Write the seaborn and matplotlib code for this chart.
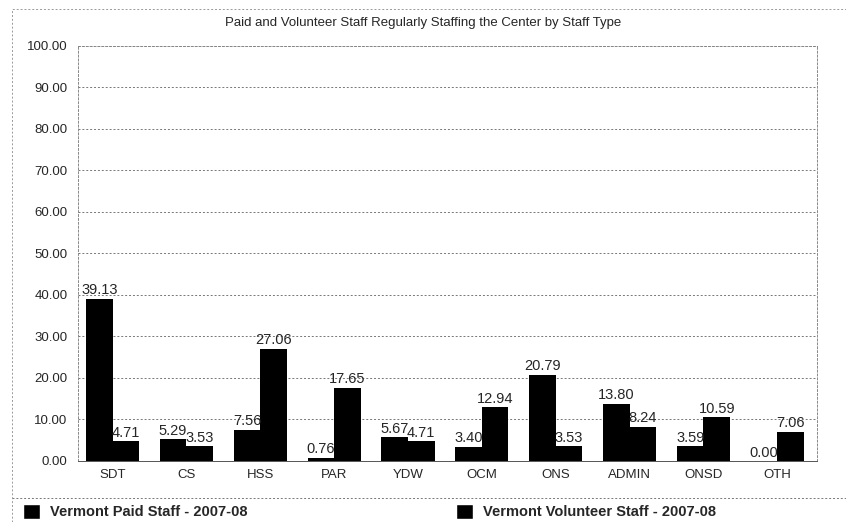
import matplotlib
matplotlib.use("Agg")
import matplotlib.pyplot as plt
import seaborn as sns
import pandas as pd
from matplotlib.lines import Line2D
from matplotlib.patches import Rectangle

categories = ["SDT", "CS", "HSS", "PAR", "YDW", "OCM", "ONS", "ADMIN", "ONSD", "OTH"]
paid = [39.13, 5.29, 7.56, 0.76, 5.67, 3.40, 20.79, 13.80, 3.59, 0.00]
volunteer = [4.71, 3.53, 27.06, 17.65, 4.71, 12.94, 3.53, 8.24, 10.59, 7.06]
series_names = ["Vermont Paid Staff - 2007-08", "Vermont Volunteer Staff - 2007-08"]
yticks = [0, 10, 20, 30, 40, 50, 60, 70, 80, 90, 100]

df = pd.DataFrame({
    "type": categories * 2,
    "value": paid + volunteer,
    "series": [series_names[0]] * len(categories) + [series_names[1]] * len(categories),
})

sns.set_style("white")
plt.rcParams["font.family"] = ["Liberation Sans", "DejaVu Sans"]

fig = plt.figure(figsize=(8.46, 5.22), dpi=100)
ax = fig.add_axes([0.092, 0.117, 0.874, 0.795])

sns.barplot(data=df, x="type", y="value", hue="series", palette=["black", "black"],
            width=0.72, saturation=1, linewidth=0, ax=ax, legend=False)

for cont in ax.containers:
    ax.bar_label(cont, fmt="%.2f", fontsize=10.5, padding=1)

ax.set_ylim(0, 100)
ax.set_yticks(yticks)
ax.set_yticklabels([f"{v:.2f}" for v in yticks], fontsize=9.5)
ax.tick_params(axis="x", labelsize=9.5, length=2, color="#555555")
ax.tick_params(axis="y", length=4, color="#555555")
ax.set_xlabel("")
ax.set_ylabel("")
ax.set_xlim(-0.47, 9.54)
ax.yaxis.grid(True, linestyle=(0, (2, 2)), color="#777777", linewidth=0.7)
ax.set_axisbelow(True)
for sp in ax.spines.values():
    sp.set_color("#888888")
    sp.set_linestyle((0, (2, 2)))
    sp.set_linewidth(0.7)
ax.spines["bottom"].set_linestyle("-")
ax.spines["bottom"].set_color("#555555")

fig.text(0.5, 0.956, "Paid and Volunteer Staff Regularly Staffing the Center by Staff Type",
         ha="center", va="center", fontsize=9.5)

# separator and outer border (left and top edges visible)
fig.add_artist(Line2D([0.014, 1.0], [0.046, 0.046], color="#777777",
                      linestyle=(0, (2, 2)), linewidth=0.7))
fig.add_artist(Line2D([0.014, 0.014, 1.0], [0.0, 0.983, 0.983], color="#999999",
                      linestyle=(0, (2, 2)), linewidth=0.7))

handles = [Rectangle((0, 0), 1, 1, facecolor="black") for _ in series_names]
leg = fig.legend(handles, series_names, loc="lower left", bbox_to_anchor=(0.012, -0.02),
                 ncol=2, frameon=False, handlelength=1.15, handleheight=1.15,
                 handletextpad=0.7, columnspacing=14.3,
                 prop={"weight": "bold", "size": 10.5})

fig.savefig("out.png", dpi=100)
